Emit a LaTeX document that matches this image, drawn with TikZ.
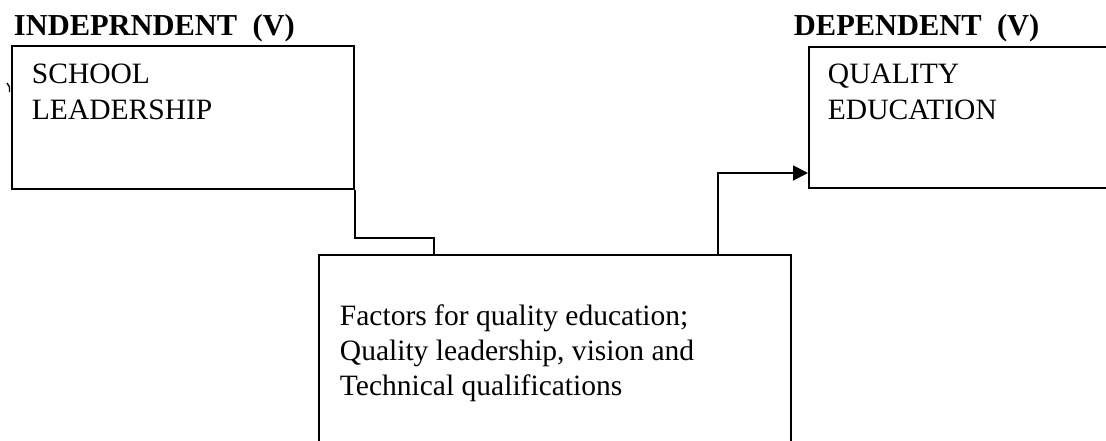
\documentclass[tikz,border=0pt]{standalone}
\usepackage{fontspec}
\setmainfont{Liberation Serif}
\usetikzlibrary{arrows.meta, calc}
\newlength\pxu
\setlength\pxu{0.015cm}
\tikzset{varbox/.style = {draw, anchor=north west, inner sep=0pt},
  boxtext/.style = {anchor=north west, inner sep=0pt, align=left, font=\fontsize{12.6}{15.4}\selectfont},
  heading/.style = {anchor=base west, inner sep=0pt, font=\fontsize{13}{15.4}\selectfont\bfseries}}

\begin{document}
\begin{tikzpicture}[x=0.015cm, y=-0.015cm, line width=0.8pt]
\useasboundingbox (0,0) rectangle (1106,440);
\clip (0,0) rectangle (1106,440);
\node [heading] (indep) at (13,35) {INDEPRNDENT~~(V)};
\node [heading] (dep) at (793,35) {DEPENDENT~~(V)};
\node [varbox, minimum width=342\pxu, minimum height=143\pxu] (lead) at (11,45) {};
\node [varbox, minimum width=360\pxu, minimum height=141\pxu] (qual) at (808,46) {};
\node [varbox, minimum width=472\pxu, minimum height=220\pxu] (fact) at (318,254) {};
\node [boxtext] (leadtxt) at ($(lead.north west)+(20,18)$) {SCHOOL\\LEADERSHIP};
\node [boxtext] (qualtxt) at ($(qual.north west)+(19,17)$) {QUALITY\\EDUCATION};
\node [boxtext, font=\fontsize{12.6}{14.8}\selectfont] (facttxt) at ($(fact.north west)+(21,50)$)
  {Factors for quality education;\\Quality leadership, vision and\\Technical qualifications};
\draw (lead.south east) -- ++(0,48) -| ($(fact.north west)+(116,0)$);
\draw [-{Triangle[length=6.4pt, width=6.4pt]}] ($(fact.north west)+(400,0)$) |- ($(qual.north west)+(0,127)$);
\draw [line width=0.6pt] (7,83) -- (9.5,87) -- (9.5,92);
\end{tikzpicture}
\end{document}
